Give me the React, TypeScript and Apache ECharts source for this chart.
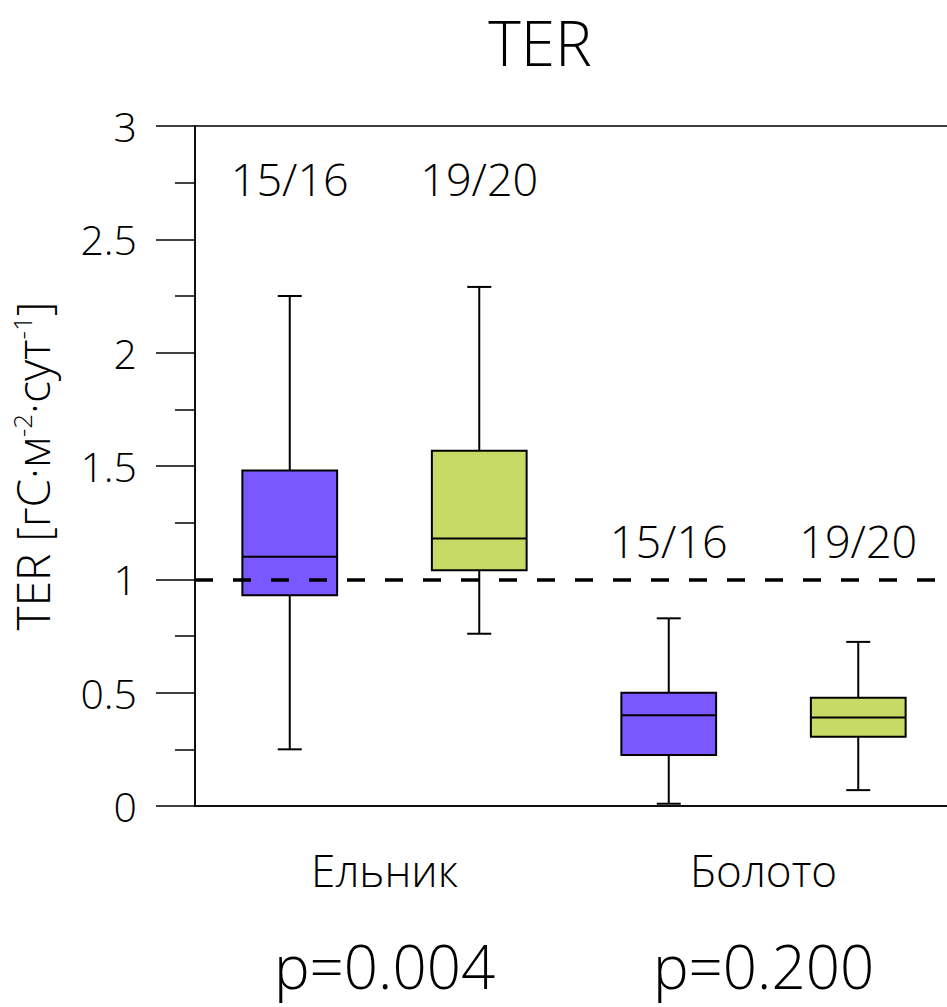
import React, { useEffect, useRef } from 'react';
import * as echarts from 'echarts';

// ---- data ----
const slots = ['Ельник 15/16', 'Ельник 19/20', 'Болото 15/16', 'Болото 19/20'];
const groups = ['Ельник', 'Болото'];
const pValues = ['p=0.004', 'p=0.200'];
const periodLabels = ['15/16', '19/20', '15/16', '19/20'];
const periodLabelY = [2.77, 2.77, 1.17, 1.17];
const whiskerLow = [0.25, 0.76, 0.01, 0.07];
const q1 = [0.93, 1.04, 0.225, 0.306];
const median = [1.10, 1.18, 0.40, 0.39];
const q3 = [1.48, 1.567, 0.50, 0.478];
const whiskerHigh = [2.25, 2.29, 0.828, 0.724];
const boxColors = ['#7B57FF', '#C8DA66', '#7B57FF', '#C8DA66'];
const referenceLevel = 1;

const FONT = '"Open Sans", sans-serif';

export default function App() {
  const ref = useRef<HTMLDivElement>(null);
  useEffect(() => {
    if (!ref.current) return;
    const chart = echarts.init(ref.current, null, { renderer: 'svg' });
    const boxData = slots.map((_, i) => [i, whiskerLow[i], q1[i], median[i], q3[i], whiskerHigh[i]]);
    const labelData = slots.map((_, i) => [i, periodLabelY[i]]);

    const option: any = {
      animation: false,
      backgroundColor: '#fff',
      textStyle: { fontFamily: FONT, color: '#000' },
      grid: {
        left: 195, top: 126, bottom: 201, right: -6,
        outerBoundsMode: 'none', containLabel: false,
        show: true, borderColor: '#000', borderWidth: 1.5, backgroundColor: 'transparent',
      },
      graphic: [
        {
          type: 'text', x: 540, y: 42,
          style: { text: 'TER', fontSize: 62, fontFamily: FONT, fontWeight: 300, fill: '#000', textAlign: 'center', textVerticalAlign: 'middle' },
        },
      ],
      xAxis: [
        {
          type: 'category', data: slots, boundaryGap: true,
          axisLine: { show: true, lineStyle: { color: '#000', width: 1.5 } },
          axisTick: { show: false }, axisLabel: { show: false }, splitLine: { show: false },
        },
        {
          type: 'category', data: groups, position: 'bottom', boundaryGap: true,
          axisLine: { show: false }, axisTick: { show: false }, splitLine: { show: false },
          axisLabel: { show: true, fontSize: 44, fontFamily: FONT, fontWeight: 300, color: '#000', margin: 42 },
        },
        {
          type: 'category', data: pValues, position: 'bottom', boundaryGap: true, offset: 0,
          axisLine: { show: false }, axisTick: { show: false }, splitLine: { show: false },
          axisLabel: { show: true, fontSize: 60, lineHeight: 60, fontFamily: FONT, fontWeight: 300, color: '#000', margin: 130 },
        },
      ],
      yAxis: {
        type: 'value', min: 0, max: 3, interval: 0.5,
        axisLine: { show: true, lineStyle: { color: '#000', width: 1.5 } },
        axisTick: { show: true, inside: false, length: 39, lineStyle: { color: '#000', width: 1.5 } },
        minorTick: { show: true, splitNumber: 2, length: 20, lineStyle: { color: '#000', width: 1.5 } },
        splitLine: { show: false },
        axisLabel: {
          fontSize: 41, fontFamily: FONT, fontWeight: 300, color: '#000', margin: 58,
          formatter: (v: number) => String(v),
        },
        name: 'TER [гС·м{sup|-2}·сут{sup|-1}]',
        nameLocation: 'middle', nameGap: 140, nameRotate: 90,
        nameTextStyle: {
          fontSize: 46, fontFamily: FONT, fontWeight: 300, color: '#000',
          rich: { sup: { fontSize: 26, fontFamily: FONT, color: '#000', verticalAlign: 'top', padding: [0, 0, 20, 0] } },
        },
      },
      series: [
        {
          type: 'custom',
          xAxisIndex: 0,
          data: boxData,
          renderItem: (params: any, api: any) => {
            const idx = api.value(0);
            const lo = api.coord([idx, api.value(1)]);
            const b1 = api.coord([idx, api.value(2)]);
            const md = api.coord([idx, api.value(3)]);
            const b3 = api.coord([idx, api.value(4)]);
            const hi = api.coord([idx, api.value(5)]);
            const w = api.size([1, 0])[0] * 0.5;
            const cap = 24;
            const x = lo[0];
            const lineStyle = { stroke: '#000', lineWidth: 2 };
            return {
              type: 'group',
              children: [
                { type: 'line', shape: { x1: x, y1: hi[1], x2: x, y2: b3[1] }, style: lineStyle },
                { type: 'line', shape: { x1: x, y1: b1[1], x2: x, y2: lo[1] }, style: lineStyle },
                { type: 'line', shape: { x1: x - cap / 2, y1: hi[1], x2: x + cap / 2, y2: hi[1] }, style: lineStyle },
                { type: 'line', shape: { x1: x - cap / 2, y1: lo[1], x2: x + cap / 2, y2: lo[1] }, style: lineStyle },
                {
                  type: 'rect',
                  shape: { x: x - w / 2, y: b3[1], width: w, height: b1[1] - b3[1] },
                  style: { fill: boxColors[params.dataIndex], stroke: '#000', lineWidth: 2 },
                },
                { type: 'line', shape: { x1: x - w / 2, y1: md[1], x2: x + w / 2, y2: md[1] }, style: lineStyle },
              ],
            };
          },
          markLine: {
            silent: true, symbol: 'none', label: { show: false },
            lineStyle: { color: '#000', type: [18, 20], width: 3.5 },
            data: [{ yAxis: referenceLevel }],
          },
          z: 3,
        },
        {
          type: 'scatter',
          xAxisIndex: 0,
          data: labelData,
          symbolSize: 1,
          itemStyle: { opacity: 1, color: 'rgba(0,0,0,0)' },
          label: {
            show: true, position: 'inside',
            formatter: (p: any) => periodLabels[p.dataIndex],
            fontSize: 45, fontFamily: FONT, fontWeight: 300, color: '#000', opacity: 1,
          },
          z: 4,
        },
      ],
    };
    chart.setOption(option);
    return () => chart.dispose();
  }, []);

  return (
    <div
      ref={ref}
      style={{ position: 'fixed', left: 0, top: 0, width: 947, height: 1007, background: '#fff' }}
    />
  );
}
